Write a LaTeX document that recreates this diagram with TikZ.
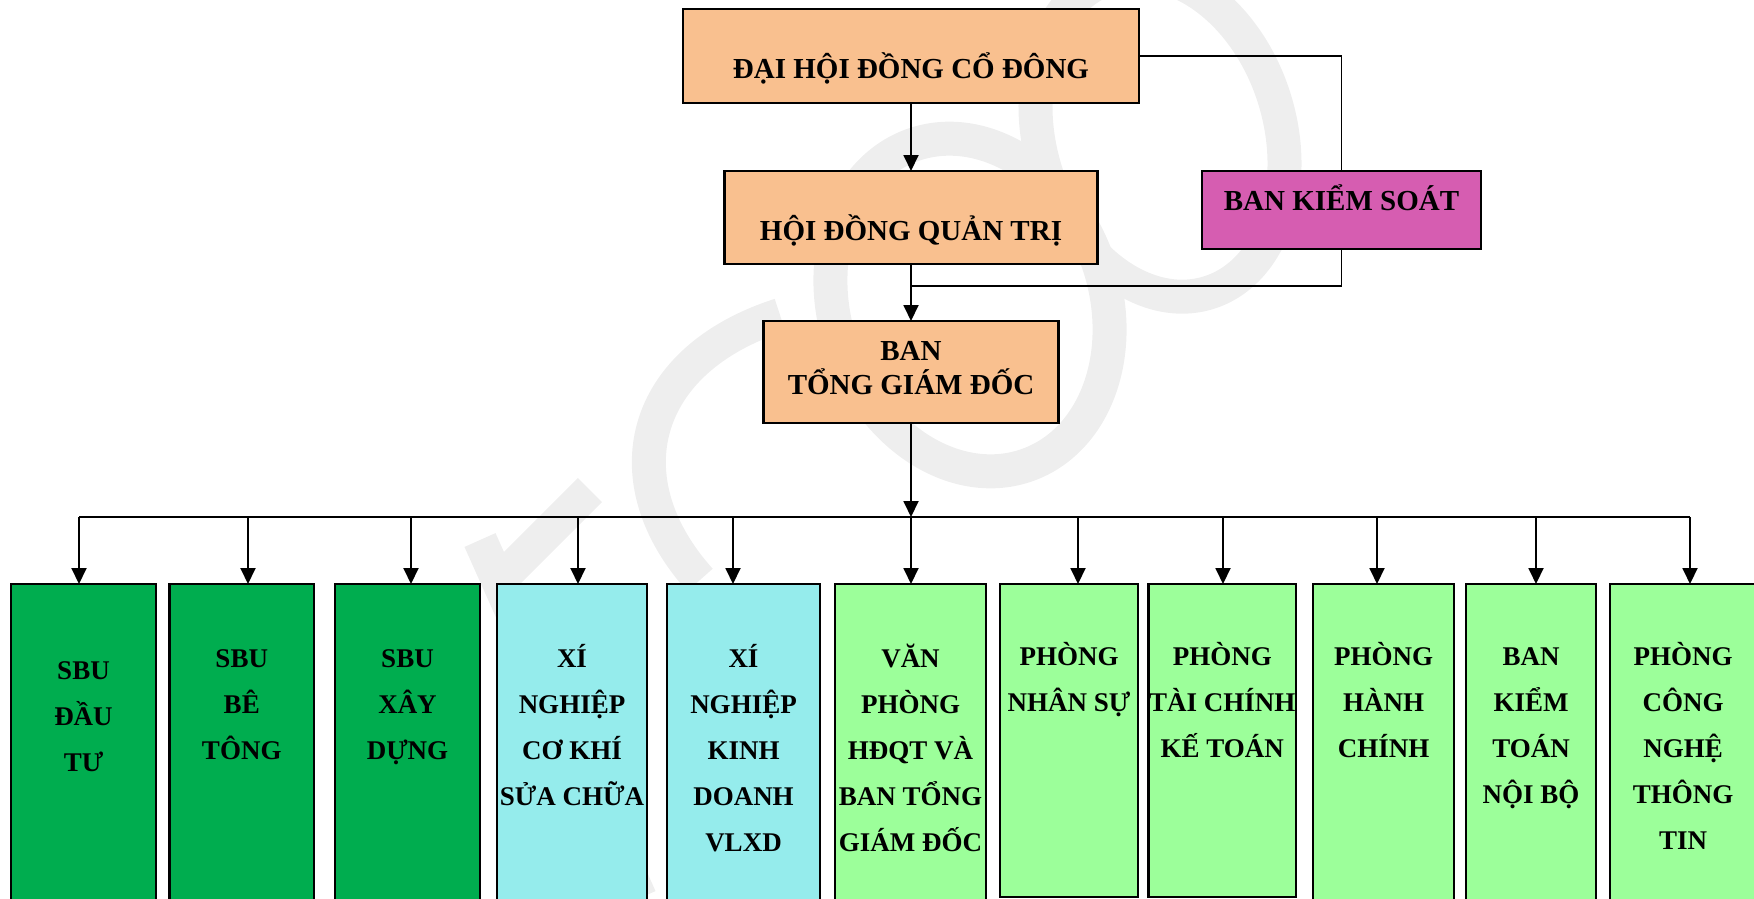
\documentclass[tikz,border=0pt]{standalone}
\usepackage{fontspec}
\setmainfont{Liberation Serif}
\usetikzlibrary{arrows.meta}
\definecolor{peach}{HTML}{F9C08F}
\definecolor{magen}{HTML}{D65DB1}
\definecolor{dkgreen}{HTML}{00AD4F}
\definecolor{cyanbox}{HTML}{95ECEC}
\definecolor{ltgreen}{HTML}{9CFF9A}
\definecolor{wmark}{HTML}{EEEEEE}
\begin{document}
\begin{tikzpicture}[x=1pt,y=-1pt,
  box/.style={draw=black, line width=2.2pt, inner sep=0pt, outer sep=0pt},
  conn/.style={line width=1.9pt},
  arr/.style={conn, -{Triangle[length=16pt,width=15pt]}},
  toptext/.style={font=\fontsize{29}{34}\selectfont\bfseries, inner sep=0pt, align=center},
  bottext/.style={font=\fontsize{27}{46}\selectfont\bfseries, inner sep=0pt, align=center, anchor=north},
  wm/.style={draw=wmark, line width=34pt}
]
\useasboundingbox (0,0) rectangle (1754,898);
\clip (0,0) rectangle (1754,898);
% watermark
\draw[wm] (1160,135) ellipse [x radius=120, y radius=165, rotate=17];
\draw[wm] (970,305) ellipse [x radius=135, y radius=170, rotate=20];
\draw[wm] (780,315) .. controls (640,360) and (610,480) .. (700,580);
\draw[wm] (590,490) -- (495,585);
\draw[wm] (480,540) -- (640,898);
% top boxes
\node[box, fill=peach, minimum width=456pt, minimum height=94pt] (dh) at (911,56) {};
\node[box, fill=peach, minimum width=373pt, minimum height=93pt] (hd) at (911,217.5) {};
\node[box, fill=magen, minimum width=279pt, minimum height=78pt] (bks) at (1341.5,210) {};
\node[box, fill=peach, minimum width=295pt, minimum height=102pt] (tgd) at (911,372) {};
\node[toptext, anchor=base] (tdh) at (911,78) {ĐẠI HỘI ĐỒNG CỔ ĐÔNG};
\node[toptext, anchor=base] (thd) at (911,240) {HỘI ĐỒNG QUẢN TRỊ};
\node[toptext, anchor=base] (tbks) at (1341.5,210) {BAN KIỂM SOÁT};
\node[toptext, anchor=north] (ttgd) at (911,333) {\rule{0pt}{27pt}BAN\\TỔNG GIÁM ĐỐC};
% top connectors
\coordinate (j) at (911,286);
\draw[arr] (dh.south) -- (hd.north);
\draw[arr] (hd.south) -- (tgd.north);
\draw[conn] (dh.east) -| (bks.north);
\draw[conn] (bks.south) |- (j);
% bottom boxes
\node[box, fill=dkgreen, minimum width=145pt, minimum height=321pt] (b1) at (83.5,744.5) {};
\node[box, fill=dkgreen, minimum width=144.5pt, minimum height=321pt] (b2) at (241.75,744.5) {};
\node[box, fill=dkgreen, minimum width=145pt, minimum height=321pt] (b3) at (407.5,744.5) {};
\node[box, fill=cyanbox, minimum width=150pt, minimum height=321pt] (b4) at (572,744.5) {};
\node[box, fill=cyanbox, minimum width=153pt, minimum height=321pt] (b5) at (743.5,744.5) {};
\node[box, fill=ltgreen, minimum width=151pt, minimum height=321pt] (b6) at (910.5,744.5) {};
\node[box, fill=ltgreen, minimum width=138pt, minimum height=313pt] (b7) at (1069,740.5) {};
\node[box, fill=ltgreen, minimum width=147.5pt, minimum height=313pt] (b8) at (1222.25,740.5) {};
\node[box, fill=ltgreen, minimum width=141pt, minimum height=321pt] (b9) at (1383.5,744.5) {};
\node[box, fill=ltgreen, minimum width=130pt, minimum height=321pt] (b10) at (1531,744.5) {};
\node[box, fill=ltgreen, minimum width=146pt, minimum height=321pt] (b11) at (1683,744.5) {};
% bottom texts
\node[bottext] (t1) at (83.5,649) {\rule{0pt}{30pt}SBU\\ĐẦU\\TƯ};
\node[bottext] (t2) at (241.75,637) {\rule{0pt}{30pt}SBU\\BÊ\\TÔNG};
\node[bottext] (t3) at (407.5,637) {\rule{0pt}{30pt}SBU\\XÂY\\DỰNG};
\node[bottext] (t4) at (572,637) {\rule{0pt}{30pt}XÍ\\NGHIỆP\\CƠ KHÍ\\SỬA CHỮA};
\node[bottext] (t5) at (743.5,637) {\rule{0pt}{30pt}XÍ\\NGHIỆP\\KINH\\DOANH\\VLXD};
\node[bottext] (t6) at (910.5,637) {\rule{0pt}{30pt}VĂN\\PHÒNG\\HĐQT VÀ\\BAN TỔNG\\GIÁM ĐỐC};
\node[bottext] (t7) at (1069,635) {\rule{0pt}{30pt}PHÒNG\\NHÂN SỰ};
\node[bottext] (t8) at (1222.25,635) {\rule{0pt}{30pt}PHÒNG\\TÀI CHÍNH\\KẾ TOÁN};
\node[bottext] (t9) at (1383.5,635) {\rule{0pt}{30pt}PHÒNG\\HÀNH\\CHÍNH};
\node[bottext] (t10) at (1531,635) {\rule{0pt}{30pt}BAN\\KIỂM\\TOÁN\\NỘI BỘ};
\node[bottext] (t11) at (1683,635) {\rule{0pt}{30pt}PHÒNG\\CÔNG\\NGHỆ\\THÔNG\\TIN};
% bus
\coordinate (a1) at (79,517);
\coordinate (a2) at (248,517);
\coordinate (a3) at (411,517);
\coordinate (a4) at (578,517);
\coordinate (a5) at (733,517);
\coordinate (a6) at (911,517);
\coordinate (a7) at (1078,517);
\coordinate (a8) at (1223,517);
\coordinate (a9) at (1377,517);
\coordinate (a10) at (1536,517);
\coordinate (a11) at (1690,517);
\draw[conn] (a1) -- (a11);
\draw[arr] (tgd.south) -- (a6);
\foreach \i in {1,...,11} {\draw[arr] (a\i) -- (a\i |- b\i.north);}
\end{tikzpicture}
\end{document}
